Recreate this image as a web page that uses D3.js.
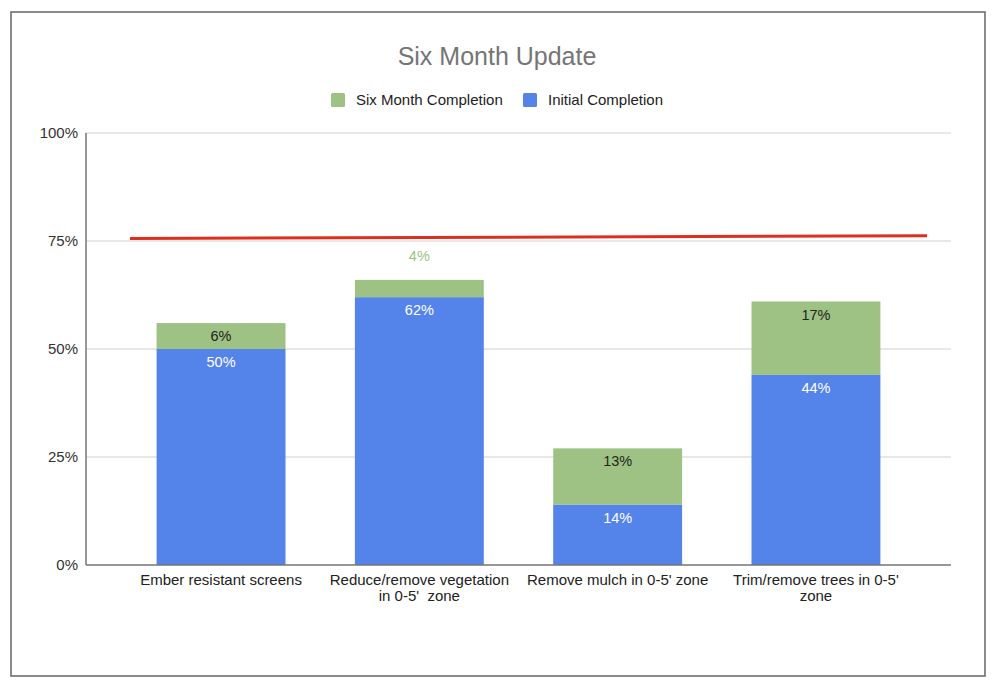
<!DOCTYPE html>
<html><head><meta charset="utf-8">
<script src="https://cdn.jsdelivr.net/npm/d3@7"></script>
<style>body{margin:0;background:#fff;}svg{display:block;font-family:"Liberation Sans",Arial,sans-serif;}tspan{white-space:pre;}</style>
</head><body>
<svg id="c" width="1000" height="691"></svg>
<script>
const categories = [["Ember resistant screens"], ["Reduce/remove vegetation", "in 0-5'  zone"], ["Remove mulch in 0-5' zone"], ["Trim/remove trees in 0-5'", "zone"]];
const initialCompletion = [50, 62, 14, 44];
const sixMonthCompletion = [6, 4, 13, 17];
const yTicks = [0, 25, 50, 75, 100];
const targetLine = [75.6, 76.2];
const seriesNames = ["Six Month Completion", "Initial Completion"];

(function () {
const svg = d3.select("#c");
const colors = {blue: "#5483e9", green: "#9ec283", red: "#df2f1c"};
const pLeft = 86, pRight = 951, pTop = 133, pBottom = 565;

svg.append("rect").attr("x", 11).attr("y", 12).attr("width", 974).attr("height", 664)
  .attr("fill", "#fff").attr("stroke", "#6e6e6e").attr("stroke-width", 1.6);

const x = d3.scaleBand().domain(d3.range(categories.length)).range([pLeft, pRight]).paddingInner(0.35).paddingOuter(0.356);
const y = d3.scaleLinear().domain([0, 100]).range([pBottom, pTop]);

// gridlines
svg.append("g").selectAll("line").data(yTicks.filter(t => t > 0)).join("line")
  .attr("x1", pLeft).attr("x2", pRight).attr("y1", d => y(d)).attr("y2", d => y(d))
  .attr("stroke", "#d0d0d0").attr("stroke-width", 1);

// y axis labels
svg.append("g").selectAll("text").data(yTicks).join("text")
  .attr("x", 78).attr("y", d => y(d)).attr("dy", "0.35em").attr("text-anchor", "end")
  .attr("font-size", 15).attr("fill", "#333").text(d => d + "%");

const data = categories.map((c, i) => ({i, a: initialCompletion[i], b: sixMonthCompletion[i]}));

// bars
const g = svg.append("g");
g.selectAll(".blue").data(data).join("rect").attr("class", "blue")
  .attr("x", d => x(d.i)).attr("width", x.bandwidth())
  .attr("y", d => y(d.a)).attr("height", d => y(0) - y(d.a)).attr("fill", colors.blue);
g.selectAll(".green").data(data).join("rect").attr("class", "green")
  .attr("x", d => x(d.i)).attr("width", x.bandwidth())
  .attr("y", d => y(d.a + d.b)).attr("height", d => y(d.a) - y(d.a + d.b)).attr("fill", colors.green);

// axes lines
svg.append("line").attr("x1", pLeft).attr("x2", pLeft).attr("y1", pTop).attr("y2", pBottom).attr("stroke", "#757575").attr("stroke-width", 1.5);
svg.append("line").attr("x1", pLeft).attr("x2", pRight).attr("y1", pBottom).attr("y2", pBottom).attr("stroke", "#757575").attr("stroke-width", 1.5);

// bar labels
g.selectAll(".lb").data(data).join("text").attr("class", "lb")
  .attr("x", d => x(d.i) + x.bandwidth() / 2).attr("y", d => y(d.a) + 13).attr("dy", "0.35em")
  .attr("text-anchor", "middle").attr("font-size", 14.5).attr("fill", "#fff").text(d => d.a + "%");
g.selectAll(".lg").data(data).join("text").attr("class", "lg")
  .attr("x", d => x(d.i) + x.bandwidth() / 2)
  .attr("y", d => (y(d.a) - y(d.a + d.b) < 22) ? y(d.a + d.b) - 24 : y(d.a + d.b) + 13)
  .attr("dy", "0.35em").attr("text-anchor", "middle").attr("font-size", 14.5)
  .attr("fill", d => (y(d.a) - y(d.a + d.b) < 22) ? colors.green : "#222").text(d => d.b + "%");

// x labels
svg.append("g").selectAll("text").data(data).join("text")
  .attr("x", d => x(d.i) + x.bandwidth() / 2).attr("y", 585)
  .attr("text-anchor", "middle").attr("font-size", 15).attr("fill", "#222")
  .each(function(d) {
    const t = d3.select(this);
    categories[d.i].forEach((line, k) => t.append("tspan").attr("x", x(d.i) + x.bandwidth() / 2).attr("dy", k ? 16 : 0).text(line));
  });

// target line
const px = d3.scaleLinear().domain([0, 1]).range([pLeft + 44, pRight - 24]);
svg.append("path").datum(targetLine)
  .attr("d", d3.line().x((d, i) => px(i)).y(d => y(d)))
  .attr("stroke", colors.red).attr("stroke-width", 3).attr("fill", "none");

// title
svg.append("text").attr("x", 497).attr("y", 65).attr("text-anchor", "middle")
  .attr("font-size", 25).attr("fill", "#757575").text("Six Month Update");

// legend
const legend = svg.append("g");
const items = [{name: seriesNames[0], color: colors.green, x: 331}, {name: seriesNames[1], color: colors.blue, x: 523}];
items.forEach(it => {
  legend.append("rect").attr("x", it.x).attr("y", 93).attr("width", 14).attr("height", 14).attr("rx", 1.5).attr("fill", it.color);
  legend.append("text").attr("x", it.x + 25).attr("y", 100).attr("dy", "0.35em").attr("font-size", 15).attr("fill", "#222").text(it.name);
});
})();
</script>
</body></html>
